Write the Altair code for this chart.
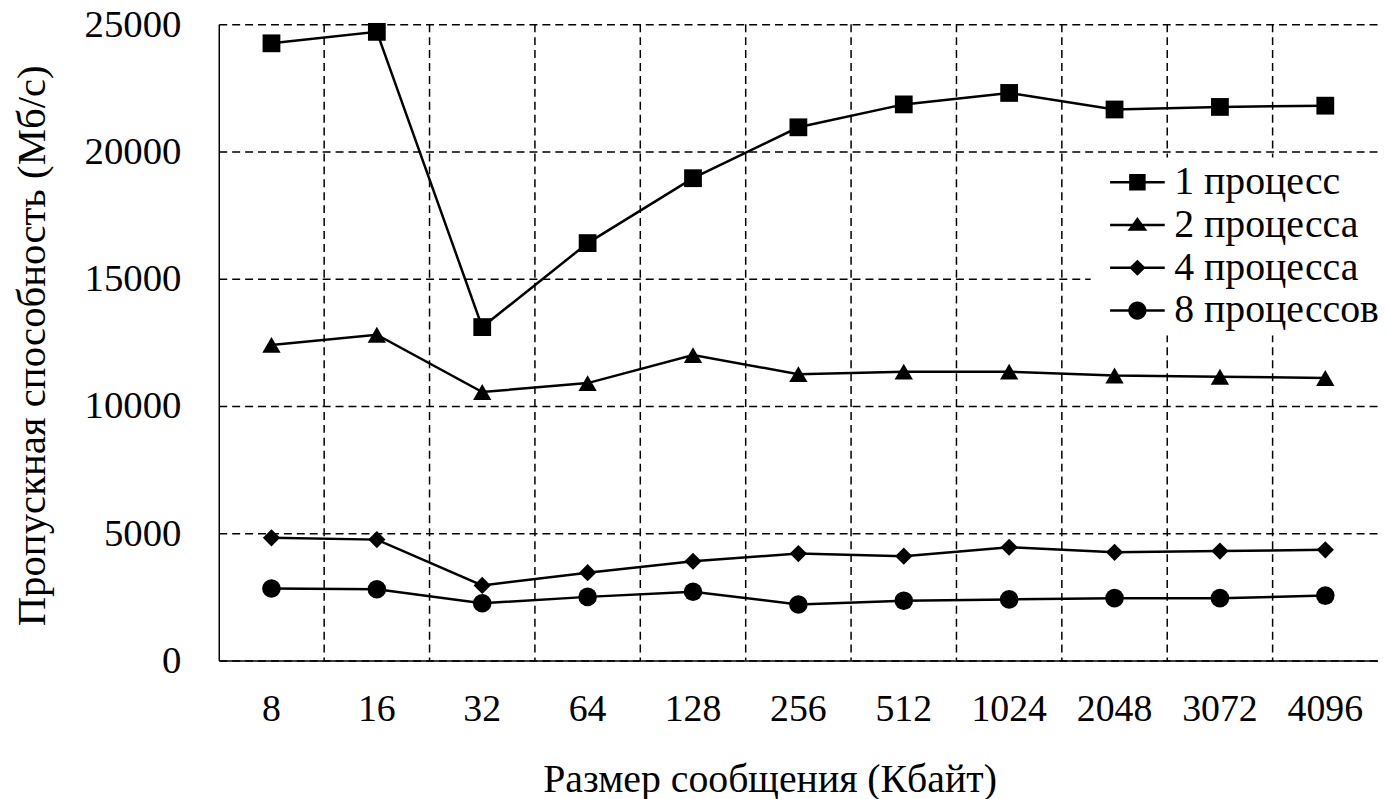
import altair as alt
import pandas as pd

sizes = ["8", "16", "32", "64", "128", "256", "512", "1024", "2048", "3072", "4096"]
series_names = ["1 процесс", "2 процесса", "4 процесса", "8 процессов"]
proc1 = [24250, 24700, 13100, 16400, 18950, 20950, 21850, 22300, 21650, 21750, 21800]
proc2 = [12400, 12800, 10550, 10900, 12000, 11250, 11350, 11350, 11200, 11150, 11100]
proc4 = [4820, 4750, 2950, 3450, 3900, 4200, 4100, 4450, 4250, 4300, 4350]
proc8 = [2830, 2800, 2250, 2500, 2700, 2200, 2350, 2400, 2450, 2450, 2550]
y_ticks = [0, 5000, 10000, 15000, 20000, 25000]
x_title = "Размер сообщения (Кбайт)"
y_title = "Пропускная способность (Мб/с)"

plot_shapes = ["square", "triangle-up", "diamond", "circle"]
plot_sizes = [320, 340, 300, 350]
# legend glyphs: a short line (thin filled bar) with the marker in the middle
LINE = "M-1.571,-0.071H1.571V0.071H-1.571Z"
legend_shapes = [
    LINE + "M-0.474,-0.474H0.474V0.474H-0.474Z",
    LINE + "M0,-0.457L0.571,0.326H-0.571Z",
    LINE + "M-0.474,0L0,-0.457L0.474,0L0,0.457Z",
    LINE + "M0.526,0A0.526,0.526,0,1,1,-0.526,0A0.526,0.526,0,1,1,0.526,0Z",
]

rows = []
for name, vals in zip(series_names, [proc1, proc2, proc4, proc8]):
    for i, (s, v) in enumerate(zip(sizes, vals)):
        rows.append({"size": s, "idx": i, "series": name, "value": v})
df = pd.DataFrame(rows)
grid_df = pd.DataFrame({"size": sizes[1:]})

FONT = "Liberation Serif, Times New Roman, serif"
W, H = 1166, 640

xscale = alt.Scale(type="band", domain=sizes, paddingInner=0, paddingOuter=0)
yscale = alt.Scale(domain=[0, 25000], nice=False)

x_axis = alt.Axis(
    title=x_title, labelAngle=0, grid=False, ticks=False,
    domainColor="black", domainWidth=1.5,
    labelFont=FONT, labelFontSize=38, labelColor="black", labelPadding=30,
    titleFont=FONT, titleFontSize=40, titleFontWeight="normal", titleColor="black",
    titlePadding=32, titleX=554,
)
y_axis = alt.Axis(
    title=y_title, values=y_ticks, format="d", grid=True, ticks=False,
    gridColor="black", gridDash=[8, 5], gridWidth=1.5, gridOpacity=1,
    domainColor="black", domainWidth=1.5,
    labelFont=FONT, labelFontSize=39, labelColor="black", labelPadding=38,
    titleFont=FONT, titleFontSize=41, titleFontWeight="normal", titleColor="black",
    titlePadding=31, titleY=323,
)

X = alt.X("size:N", scale=xscale, axis=x_axis)
Y = alt.Y("value:Q", scale=yscale, axis=y_axis)

vgrid = alt.Chart(grid_df).mark_rule(color="black", strokeDash=[8, 5], strokeWidth=1.5).encode(
    x=alt.X("size:N", scale=xscale, bandPosition=0, axis=x_axis),
)

lines = alt.Chart(df).mark_line(color="black", strokeWidth=2.5).encode(
    x=X, y=Y, detail="series:N", order=alt.Order("idx:Q"),
)

point_layers = []
for name, shp, sz in zip(series_names, plot_shapes, plot_sizes):
    point_layers.append(
        alt.Chart(df).transform_filter(alt.datum.series == name)
        .mark_point(filled=True, color="black", opacity=1, shape=shp, size=sz)
        .encode(x=X, y=Y)
    )

legend_layer = alt.Chart(df).transform_filter("datum.value < 0").mark_point(
    filled=True, color="black", opacity=1
).encode(
    x=X, y=Y,
    shape=alt.Shape(
        "series:N",
        scale=alt.Scale(domain=series_names, range=legend_shapes),
        legend=alt.Legend(
            title=None, orient="none", legendX=877, legendY=134,
            symbolSize=1225, symbolFillColor="black", symbolOpacity=1,
            symbolOffset=22,
            labelFont=FONT, labelFontSize=40, labelColor="black", labelLimit=0,
            labelOffset=17, rowPadding=3, padding=5, fillColor="white",
        ),
    ),
)

chart = alt.layer(vgrid, lines, *point_layers, legend_layer).properties(
    width=W, height=H,
    autosize=alt.AutoSizeParams(type="none"),
    padding={"left": 212, "top": 14, "right": 0, "bottom": 140},
    background="white",
).configure_view(stroke=None)

chart.save("out.html", embed_options={"renderer": "svg", "actions": False})
